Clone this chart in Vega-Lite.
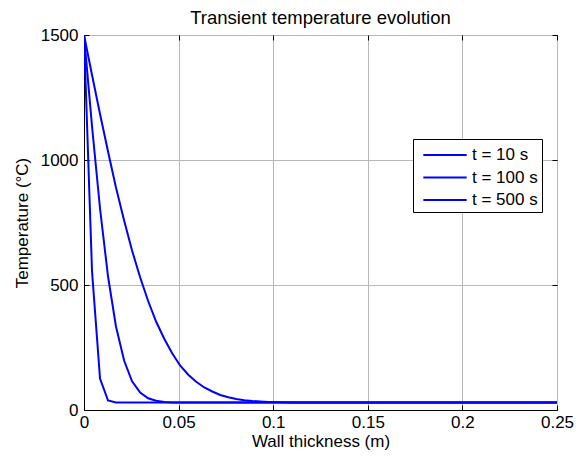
{
  "$schema": "https://vega.github.io/schema/vega-lite/v6.json",
  "width": 473,
  "height": 375,
  "autosize": {"type": "none"},
  "padding": {"left": 84, "top": 35, "right": 25, "bottom": 49},
  "background": "white",
  "title": {"text": "Transient temperature evolution", "font": "Liberation Sans", "fontSize": 18.5, "fontWeight": "normal", "color": "black", "offset": -1, "frame": "group"},
  "config": {
    "view": {"stroke": "black", "strokeWidth": 1},
    "axis": {"labelFont": "Liberation Sans", "titleFont": "Liberation Sans", "labelFontSize": 17, "titleFontSize": 17, "titleFontWeight": "normal", "labelColor": "black", "titleColor": "black", "domainColor": "black", "tickColor": "black", "gridColor": "#b8b8b8", "gridWidth": 1}
  },
  "resolve": {"axis": {"x": "independent", "y": "independent"}},
  "data": {"values": [
    {"x": 0, "T": 1500, "s": "t = 10 s"},
    {"x": 0.00424, "T": 555, "s": "t = 10 s"},
    {"x": 0.00847, "T": 126, "s": "t = 10 s"},
    {"x": 0.0127, "T": 38, "s": "t = 10 s"},
    {"x": 0.0169, "T": 30, "s": "t = 10 s"},
    {"x": 0.05, "T": 30, "s": "t = 10 s"},
    {"x": 0.1, "T": 30, "s": "t = 10 s"},
    {"x": 0.15, "T": 30, "s": "t = 10 s"},
    {"x": 0.2, "T": 30, "s": "t = 10 s"},
    {"x": 0.25, "T": 30, "s": "t = 10 s"},
    {"x": 0, "T": 1500, "s": "t = 100 s"},
    {"x": 0.00424, "T": 1135, "s": "t = 100 s"},
    {"x": 0.00847, "T": 806, "s": "t = 100 s"},
    {"x": 0.0127, "T": 534, "s": "t = 100 s"},
    {"x": 0.0169, "T": 334, "s": "t = 100 s"},
    {"x": 0.0212, "T": 198, "s": "t = 100 s"},
    {"x": 0.0254, "T": 115, "s": "t = 100 s"},
    {"x": 0.0297, "T": 70, "s": "t = 100 s"},
    {"x": 0.0339, "T": 47, "s": "t = 100 s"},
    {"x": 0.0381, "T": 37, "s": "t = 100 s"},
    {"x": 0.0424, "T": 32, "s": "t = 100 s"},
    {"x": 0.0466, "T": 30, "s": "t = 100 s"},
    {"x": 0.1, "T": 30, "s": "t = 100 s"},
    {"x": 0.15, "T": 30, "s": "t = 100 s"},
    {"x": 0.2, "T": 30, "s": "t = 100 s"},
    {"x": 0.25, "T": 30, "s": "t = 100 s"},
    {"x": 0, "T": 1500, "s": "t = 500 s"},
    {"x": 0.00424, "T": 1340, "s": "t = 500 s"},
    {"x": 0.00847, "T": 1184, "s": "t = 500 s"},
    {"x": 0.0127, "T": 1034, "s": "t = 500 s"},
    {"x": 0.0169, "T": 890, "s": "t = 500 s"},
    {"x": 0.0212, "T": 758, "s": "t = 500 s"},
    {"x": 0.0254, "T": 638, "s": "t = 500 s"},
    {"x": 0.0297, "T": 530, "s": "t = 500 s"},
    {"x": 0.0339, "T": 436, "s": "t = 500 s"},
    {"x": 0.0381, "T": 354, "s": "t = 500 s"},
    {"x": 0.0424, "T": 285, "s": "t = 500 s"},
    {"x": 0.0466, "T": 227, "s": "t = 500 s"},
    {"x": 0.0508, "T": 178, "s": "t = 500 s"},
    {"x": 0.0551, "T": 141, "s": "t = 500 s"},
    {"x": 0.0593, "T": 113, "s": "t = 500 s"},
    {"x": 0.0636, "T": 90, "s": "t = 500 s"},
    {"x": 0.0678, "T": 74, "s": "t = 500 s"},
    {"x": 0.072, "T": 60, "s": "t = 500 s"},
    {"x": 0.0763, "T": 51, "s": "t = 500 s"},
    {"x": 0.0805, "T": 44, "s": "t = 500 s"},
    {"x": 0.0847, "T": 39, "s": "t = 500 s"},
    {"x": 0.089, "T": 36, "s": "t = 500 s"},
    {"x": 0.0932, "T": 34, "s": "t = 500 s"},
    {"x": 0.0975, "T": 32.5, "s": "t = 500 s"},
    {"x": 0.1017, "T": 31.5, "s": "t = 500 s"},
    {"x": 0.1059, "T": 31, "s": "t = 500 s"},
    {"x": 0.11, "T": 30, "s": "t = 500 s"},
    {"x": 0.15, "T": 30, "s": "t = 500 s"},
    {"x": 0.2, "T": 30, "s": "t = 500 s"},
    {"x": 0.25, "T": 30, "s": "t = 500 s"}
  ]},
  "layer": [
    {
      "mark": {"type": "line", "strokeWidth": 2, "clip": true},
      "encoding": {
        "x": {"field": "x", "type": "quantitative", "scale": {"domain": [0, 0.25], "nice": false, "zero": false},
              "axis": {"orient": "bottom", "title": "Wall thickness (m)", "values": [0, 0.05, 0.1, 0.15, 0.2, 0.25], "format": "~g", "grid": true, "tickSize": -5, "labelPadding": 9, "titlePadding": 3, "labelFlush": false, "labelOverlap": false}},
        "y": {"field": "T", "type": "quantitative", "scale": {"domain": [0, 1500], "nice": false},
              "axis": {"orient": "left", "title": "Temperature (°C)", "values": [0, 500, 1000, 1500], "format": "d", "grid": true, "tickSize": -5, "labelPadding": 11, "titlePadding": 9, "labelFlush": false, "labelOverlap": false}},
        "color": {"field": "s", "type": "nominal", "sort": ["t = 10 s", "t = 100 s", "t = 500 s"],
                  "scale": {"domain": ["t = 10 s", "t = 100 s", "t = 500 s"], "range": ["#0000ff", "#0000ff", "#0000ff"]},
                  "legend": {"title": null, "orient": "none", "legendX": 329, "legendY": 104, "symbolType": "M-2,0H2", "symbolSize": 470, "symbolStrokeWidth": 2, "labelFont": "Liberation Sans", "labelFontSize": 17, "labelColor": "black", "strokeColor": "black", "fillColor": "white", "padding": 4, "rowPadding": 2.5, "symbolOffset": 16, "labelOffset": 15}}
      }
    },
    {
      "mark": {"type": "line", "opacity": 0},
      "encoding": {
        "x": {"field": "x", "type": "quantitative", "axis": {"orient": "top", "title": null, "labels": false, "grid": false, "domain": false, "tickSize": -5, "values": [0, 0.05, 0.1, 0.15, 0.2, 0.25]}},
        "y": {"field": "T", "type": "quantitative", "axis": {"orient": "right", "title": null, "labels": false, "grid": false, "domain": false, "tickSize": -5, "values": [0, 500, 1000, 1500]}},
        "detail": {"field": "s"}
      }
    }
  ]
}
